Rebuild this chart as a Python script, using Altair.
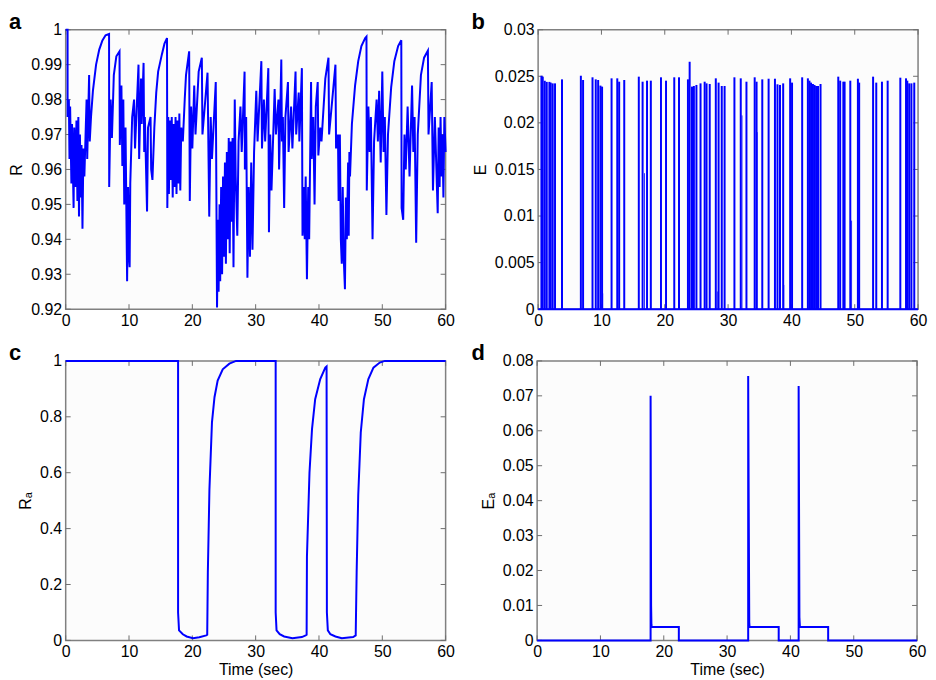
import altair as alt
import pandas as pd

W, H = 382, 281
BLUE = "#0000ff"
FONT = "Liberation Sans"

# ---------------- axis tick values ----------------
x_ticks = [0, 10, 20, 30, 40, 50, 60]
a_yticks = [0.92, 0.93, 0.94, 0.95, 0.96, 0.97, 0.98, 0.99, 1.0]
b_yticks = [0, 0.005, 0.01, 0.015, 0.02, 0.025, 0.03]
c_yticks = [0, 0.2, 0.4, 0.6, 0.8, 1.0]
d_yticks = [0, 0.01, 0.02, 0.03, 0.04, 0.05, 0.06, 0.07, 0.08]

# ---------------- panel a : R (vertices) ----------------
a_time = [
    0.0, 0.3, 0.3, 0.5, 0.6, 0.7, 0.9, 1.0, 1.25, 1.35,
    1.55, 1.7, 1.85, 2.0, 2.1, 2.25, 2.4, 2.5, 2.65, 2.8,
    2.95, 3.3, 3.4, 3.7, 3.8, 4.0, 4.3, 4.8, 5.3, 5.8,
    6.3, 6.85, 6.87, 7.1, 7.3, 7.6, 8.0, 8.5, 8.55, 8.8,
    8.95, 9.1, 9.25, 9.45, 9.7, 9.85, 10.0, 10.1, 10.2, 10.5,
    10.8, 10.95, 11.5, 11.6, 11.9, 12.0, 12.3, 12.4, 12.5, 12.85,
    13.0, 13.4, 13.5, 13.7, 14.0, 14.3, 14.6, 15.2, 15.6, 16.0,
    16.05, 16.2, 16.3, 16.45, 16.6, 16.75, 16.9, 17.05, 17.2, 17.35,
    17.5, 17.65, 17.8, 17.95, 18.1, 18.25, 18.5, 18.8, 19.0, 19.5,
    19.6, 19.8, 20.0, 20.3, 20.5, 21.0, 21.5, 21.6, 22.4, 22.67,
    22.9, 23.1, 23.7, 23.9, 24.05, 24.15, 24.3, 24.4, 24.55, 24.7,
    24.85, 25.0, 25.15, 25.3, 25.45, 25.6, 25.75, 25.9, 26.05, 26.2,
    26.35, 26.5, 26.7, 26.85, 27.1, 27.3, 27.6, 27.8, 28.25, 28.3,
    28.5, 28.7, 28.9, 29.1, 29.3, 29.5, 29.75, 30.1, 30.3, 30.9,
    31.0, 31.3, 31.5, 32.0, 32.1, 32.3, 32.5, 33.0, 33.2, 33.6,
    33.7, 34.05, 34.15, 34.3, 34.5, 34.7, 35.1, 35.2, 35.6, 35.8,
    36.3, 36.4, 36.8, 36.9, 37.3, 37.4, 37.6, 37.75, 37.9, 38.1,
    38.3, 38.45, 38.75, 38.85, 39.1, 39.3, 39.5, 39.8, 39.9, 40.2,
    40.4, 41.0, 41.5, 41.6, 42.6, 42.7, 43.0, 43.1, 43.3, 43.45,
    43.6, 43.75, 43.9, 44.1, 44.25, 44.4, 44.6, 44.7, 44.8, 44.9,
    45.2, 45.7, 46.2, 46.7, 47.3, 47.5, 47.55, 47.8, 48.0, 48.2,
    48.46, 48.7, 49.1, 49.3, 49.5, 49.75, 50.0, 50.2, 50.4, 50.65,
    50.9, 51.4, 51.9, 52.5, 53.0, 53.05, 53.3, 53.5, 53.7, 54.0,
    54.3, 54.7, 54.9, 55.1, 55.35, 55.6, 56.1, 56.6, 57.2, 57.3,
    57.8, 58.0, 58.3, 58.75, 58.9, 59.05, 59.2, 59.35, 59.5, 59.65,
    59.8, 60.0,
]
a_value = [
    1.0, 1.0, 0.975, 0.980, 0.963, 0.978, 0.956, 0.973, 0.949, 0.972,
    0.955, 0.974, 0.951, 0.975, 0.9465, 0.970, 0.952, 0.967, 0.943, 0.966,
    0.958, 0.980, 0.963, 0.987, 0.968, 0.975, 0.9825, 0.990, 0.9943, 0.9969,
    0.9984, 0.9988, 0.955, 0.980, 0.969, 0.987, 0.9924, 0.9938, 0.967, 0.984,
    0.961, 0.980, 0.950, 0.972, 0.928, 0.955, 0.935, 0.932, 0.956, 0.975,
    0.980, 0.966, 0.990, 0.963, 0.986, 0.973, 0.9905, 0.965, 0.975, 0.948,
    0.972, 0.975, 0.960, 0.957, 0.972, 0.982, 0.988, 0.993, 0.996, 0.9976,
    0.949, 0.975, 0.953, 0.974, 0.957, 0.975, 0.952, 0.973, 0.955, 0.975,
    0.953, 0.974, 0.956, 0.976, 0.954, 0.972, 0.968, 0.980, 0.987, 0.9938,
    0.951, 0.978, 0.966, 0.984, 0.970, 0.988, 0.992, 0.970, 0.9877, 0.9465,
    0.975, 0.963, 0.985, 0.9205, 0.9456, 0.925, 0.950, 0.928, 0.955, 0.930,
    0.958, 0.935, 0.962, 0.933, 0.965, 0.940, 0.969, 0.936, 0.968, 0.945,
    0.969, 0.932, 0.980, 0.958, 0.941, 0.968, 0.978, 0.965, 0.988, 0.960,
    0.975, 0.929, 0.955, 0.935, 0.962, 0.937, 0.965, 0.9825, 0.968, 0.991,
    0.966, 0.980, 0.968, 0.989, 0.942, 0.970, 0.954, 0.983, 0.970, 0.980,
    0.960, 0.9915, 0.968, 0.975, 0.949, 0.975, 0.985, 0.965, 0.978, 0.966,
    0.988, 0.970, 0.982, 0.968, 0.989, 0.941, 0.955, 0.940, 0.958, 0.9286,
    0.955, 0.940, 0.985, 0.963, 0.975, 0.950, 0.978, 0.985, 0.964, 0.972,
    0.968, 0.986, 0.992, 0.970, 0.990, 0.966, 0.970, 0.951, 0.970, 0.940,
    0.933, 0.955, 0.935, 0.9257, 0.952, 0.940, 0.962, 0.941, 0.965, 0.958,
    0.973, 0.984, 0.991, 0.9953, 0.9976, 0.998, 0.954, 0.978, 0.965, 0.975,
    0.940, 0.968, 0.980, 0.968, 0.9825, 0.962, 0.988, 0.965, 0.975, 0.947,
    0.970, 0.9835, 0.991, 0.9953, 0.997, 0.949, 0.9456, 0.970, 0.960, 0.978,
    0.958, 0.984, 0.965, 0.975, 0.939, 0.970, 0.987, 0.992, 0.994, 0.970,
    0.985, 0.954, 0.975, 0.9475, 0.972, 0.955, 0.975, 0.958, 0.970, 0.952,
    0.975, 0.965,
]

# ---------------- panel b : E spikes ----------------
b_time = [
    0.52, 0.73, 1.05, 1.36, 1.78, 1.99, 2.3, 2.67, 3.77, 6.75,
    7.1, 8.59, 9.1, 9.48, 9.84, 10.1, 11.6, 12.5, 12.8, 13.6,
    15.9, 16.5, 17.2, 17.8, 19.4, 20.2, 21.5, 22.25, 23.66, 23.93,
    24.3, 24.6, 25.0, 25.65, 26.3, 26.6, 27.1, 28.06, 28.5, 29.0,
    29.45, 31.0, 32.0, 32.9, 34.2, 34.5, 35.4, 36.4, 37.4, 37.8,
    38.2, 38.7, 39.8, 40.1, 41.7, 42.6, 42.85, 43.1, 43.4, 43.65,
    43.9, 44.2, 44.6, 47.4, 47.7, 48.2, 48.4, 49.3, 50.5, 50.7,
    52.9, 53.4, 54.3, 55.2, 57.2, 58.1, 58.3, 58.6, 58.95, 59.4,
]
b_height = [
    0.02506, 0.02496, 0.02452, 0.0244, 0.0244, 0.02432, 0.02424, 0.02424, 0.02467, 0.02506,
    0.0246, 0.02489, 0.02467, 0.0246, 0.0240, 0.02389, 0.02478, 0.02478, 0.02442, 0.0246,
    0.02496, 0.02442, 0.02453, 0.02453, 0.02489, 0.02453, 0.02489, 0.02489, 0.02467, 0.02656,
    0.02389, 0.02396, 0.02407, 0.02424, 0.02442, 0.02424, 0.02417, 0.02478, 0.02432, 0.02396,
    0.02396, 0.02489, 0.02478, 0.02442, 0.02489, 0.02442, 0.02467, 0.02474, 0.02474, 0.02414,
    0.02407, 0.02424, 0.02478, 0.02432, 0.02489, 0.02478, 0.02453, 0.02432, 0.02417, 0.02407,
    0.02396, 0.02396, 0.02417, 0.02496, 0.02453, 0.02442, 0.02442, 0.02453, 0.02474, 0.02432,
    0.02496, 0.02432, 0.02442, 0.02453, 0.02485, 0.02478, 0.02453, 0.02424, 0.02424, 0.02432,
]
b_partial_time = [10.2, 16.8, 28.3, 32.2, 34.6, 38.8, 49.5]
b_partial_height = [0.0017, 0.0146, 0.0019, 0.0208, 0.019, 0.0026, 0.0095]

# ---------------- panel c : Ra ----------------
c_time = [
    0, 17.75, 17.75, 17.9, 18.5, 19.1, 20.1, 21.1, 22.2, 22.35,
    22.45, 22.7, 23.1, 23.5, 24.0, 24.8, 25.85, 26.9, 33.16, 33.16,
    33.3, 33.8, 34.5, 35.8, 37.3, 37.9, 38.05, 38.1, 38.5, 38.9,
    39.4, 40.2, 41.0, 41.2, 41.25, 41.4, 41.8, 42.6, 43.6, 45.4,
    45.8, 45.95, 46.2, 46.6, 47.1, 47.8, 48.6, 49.6, 50.4, 60,
]
c_value = [
    1, 1, 0.1, 0.036, 0.022, 0.014, 0.008, 0.011, 0.018, 0.02,
    0.244, 0.54, 0.78, 0.87, 0.93, 0.97, 0.99, 1.0, 1.0, 0.1,
    0.036, 0.022, 0.014, 0.008, 0.012, 0.018, 0.02, 0.30, 0.60, 0.756,
    0.863, 0.935, 0.976, 0.98, 0.1, 0.036, 0.022, 0.014, 0.008, 0.012,
    0.018, 0.244, 0.52, 0.744, 0.863, 0.935, 0.976, 0.994, 1.0, 1.0,
]

# ---------------- panel d : Ea ----------------
d_time = [0, 17.92, 17.92, 18.0, 18.05, 18.1, 22.38, 22.38, 33.33, 33.33, 33.42,
          33.5, 33.55, 38.15, 38.15, 41.3, 41.3, 41.42, 41.5, 45.96, 45.96, 60]
d_value = [0, 0, 0.070, 0.010, 0.0045, 0.0038, 0.0038, 0, 0, 0.0757, 0.0367,
           0.0052, 0.0038, 0.0038, 0, 0, 0.0728, 0.0067, 0.0038, 0.0038, 0, 0]

assert len(a_time) == len(a_value)
assert len(b_time) == len(b_height)
assert len(c_time) == len(c_value)
assert len(d_time) == len(d_value)


def series_df(ts, vs):
    return pd.DataFrame({"i": list(range(len(ts))), "t": ts, "v": vs})


def panel(layers_fn, ydomain, yticks, ytitle, xtitle, letter, letter_dx):
    xscale = alt.Scale(domain=[0, 60], nice=False, zero=False)
    yscale = alt.Scale(domain=ydomain, nice=False, zero=False)
    xaxis = alt.Axis(values=x_ticks, format="~r", title=xtitle)
    yaxis = alt.Axis(values=yticks, format="~r", title=ytitle)
    xe = alt.X("t:Q", scale=xscale, axis=xaxis)
    ye = alt.Y("v:Q", scale=yscale, axis=yaxis)

    xt = pd.DataFrame({"t": x_ticks})
    yt = pd.DataFrame({"v": yticks})
    tk = dict(color="#6e6e6e", strokeWidth=1)
    ticks = [
        alt.Chart(xt).mark_rule(**tk).encode(x=xe, y=alt.value(H), y2=alt.value(H - 5)),
        alt.Chart(xt).mark_rule(**tk).encode(x=xe, y=alt.value(0), y2=alt.value(5)),
        alt.Chart(yt).mark_rule(**tk).encode(y=ye, x=alt.value(0), x2=alt.value(5)),
        alt.Chart(yt).mark_rule(**tk).encode(y=ye, x=alt.value(W), x2=alt.value(W - 5)),
    ]
    main = layers_fn(xe, ye)
    lab = alt.Chart(pd.DataFrame({"label": [letter]})).mark_text(
        font=FONT, fontSize=22, fontWeight="bold", align="left",
        baseline="alphabetic", color="#000").encode(
        x=alt.value(letter_dx), y=alt.value(-1), text="label:N")
    return alt.layer(*ticks, *main, lab).properties(width=W, height=H)


def line_layers(ts, vs, width=1.6):
    def f(xe, ye):
        return [alt.Chart(series_df(ts, vs)).mark_line(
            color=BLUE, strokeWidth=width, strokeJoin="miter").encode(
            x=xe, y=ye, order="i:Q")]
    return f


def spike_layers(xe, ye):
    full = pd.DataFrame({"t": b_time, "v": b_height, "base": [0] * len(b_time)})
    part = pd.DataFrame({"t": b_partial_time, "v": b_partial_height,
                         "base": [0] * len(b_partial_time)})
    base = pd.DataFrame({"t": [0, 60], "v": [0, 0], "i": [0, 1]})
    return [
        alt.Chart(part).mark_rule(color=BLUE, strokeWidth=1, opacity=0.8).encode(
            x=xe, y=ye, y2="base:Q"),
        alt.Chart(full).mark_rule(color=BLUE, strokeWidth=2).encode(
            x=xe, y=ye, y2="base:Q"),
        alt.Chart(base).mark_line(color=BLUE, strokeWidth=2).encode(
            x=xe, y=ye, order="i:Q"),
    ]


pa = panel(line_layers(a_time, a_value, 2), [0.92, 1.0], a_yticks, "R", None, "a", -57)
pb = panel(spike_layers, [0, 0.03], b_yticks, "E", None, "b", -67)
pc = panel(line_layers(c_time, c_value, 2), [0, 1], c_yticks, "Rₐ", "Time (sec)", "c", -57)
pd_ = panel(line_layers(d_time, d_value, 2), [0, 0.08], d_yticks, "Eₐ", "Time (sec)", "d", -66)

chart = alt.vconcat(
    alt.hconcat(pa, pb, spacing=15),
    alt.hconcat(pc, pd_, spacing=15),
    spacing=12,
).properties(
    padding=0, background="white"
).configure_axis(
    labelFont=FONT, labelFontSize=16, labelColor="#000",
    titleFont=FONT, titleFontSize=16, titleFontWeight="normal", titleColor="#000",
    domain=False, ticks=False, grid=False, labelOverlap=False,
).configure_axisX(
    labelFlush=False, labelPadding=3, titlePadding=2,
).configure_axisY(
    labelPadding=4, titlePadding=6,
).configure_view(
    stroke="#808080", strokeWidth=1.5, fill="#fcfcfc",
)

chart.save("out.html", embed_options={"renderer": "svg", "actions": False})
